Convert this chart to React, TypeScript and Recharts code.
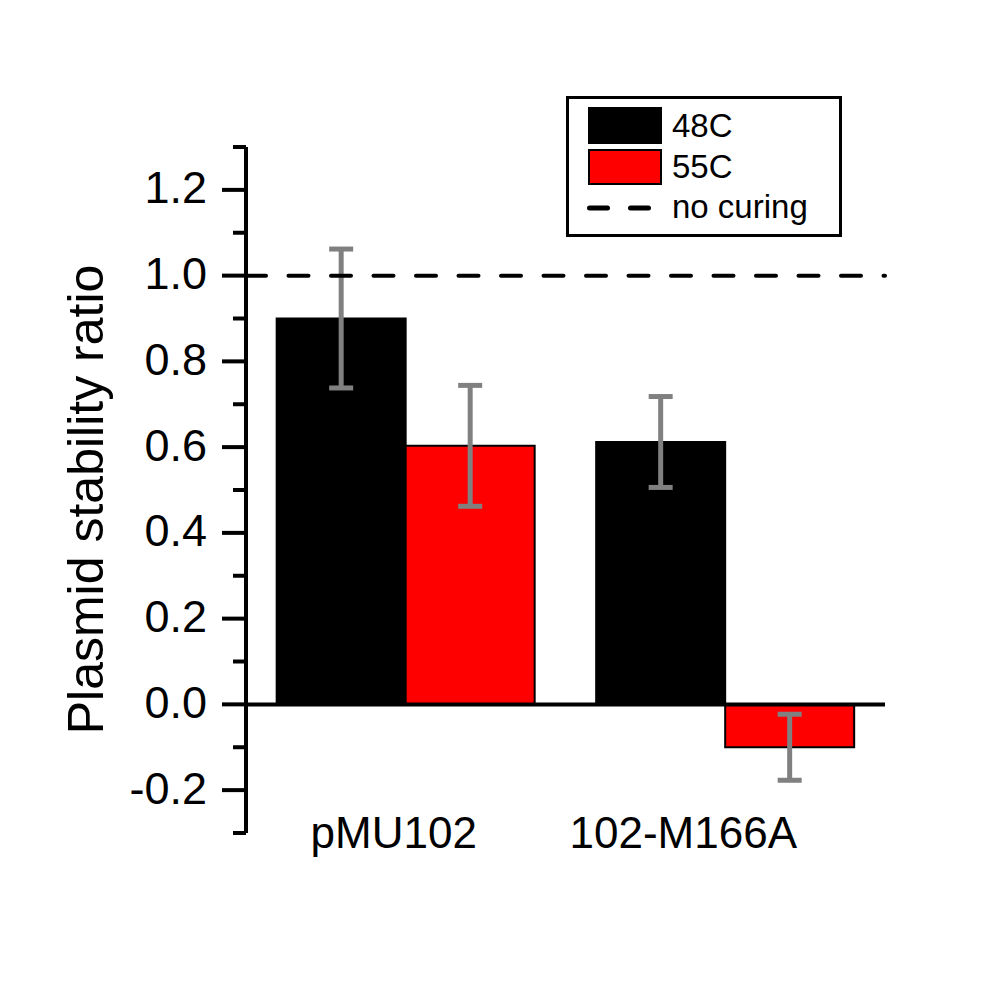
import {
  Bar,
  BarChart,
  ErrorBar,
  Label,
  Legend,
  ReferenceLine,
  XAxis,
  YAxis,
} from "recharts";

const categories = ["pMU102", "102-M166A"];
const seriesNames = ["48C", "55C"];
const values48 = [0.9, 0.612];
const errors48 = [0.162, 0.106];
const values55 = [0.603, -0.1];
const errors55 = [0.141, 0.077];
const yTicks = [
  -0.3, -0.2, -0.1, 0, 0.1, 0.2, 0.3, 0.4, 0.5, 0.6, 0.7, 0.8, 0.9, 1.0, 1.1,
  1.2, 1.3,
];
const noCuringLevel = 1.0;
const noCuringLabel = "no curing";
const yLabel = "Plasmid stability ratio";

const data = categories.map((name, i) => ({
  name,
  c48: values48[i],
  e48: errors48[i],
  c55: values55[i],
  e55: errors55[i],
}));

const FONT = '"Liberation Sans", Arial, sans-serif';
// category labels sit a bit left of the bar groups in the original
const xLabelShift = [-12, -42];

const YTick = (props: any) => {
  const { x, y, payload } = props;
  const v = payload.value as number;
  const major = Math.round(v * 10) % 2 === 0;
  return (
    <g>
      <line
        x1={x - (major ? 24 : 13)}
        x2={x}
        y1={y}
        y2={y}
        stroke="#000"
        strokeWidth={4}
      />
      {major && (
        <text
          x={x - 39}
          y={y - 2}
          textAnchor="end"
          dominantBaseline="central"
          fontSize={45}
          fontFamily={FONT}
          fill="#000"
        >
          {v.toFixed(1)}
        </text>
      )}
    </g>
  );
};

const XTick = (props: any) => {
  const { x, y, payload, index } = props;
  return (
    <text
      x={x + (xLabelShift[index] ?? 0)}
      y={y + 15}
      textAnchor="middle"
      fontSize={44}
      fontFamily={FONT}
      fill="#000"
    >
      {payload.value}
    </text>
  );
};

const renderYLabel = (props: any) => {
  const vb = props.viewBox || {};
  const cx = vb.x + 57.5;
  const cy = vb.y + vb.height / 2 + 9.5;
  return (
    <text
      x={cx}
      y={cy}
      transform={`rotate(-90, ${cx}, ${cy})`}
      textAnchor="middle"
      dominantBaseline="central"
      fontSize={50}
      fontFamily={FONT}
      fill="#000"
    >
      {yLabel}
    </text>
  );
};

const LegendBox = () => (
  <svg width={276} height={141} style={{ display: "block" }}>
    <rect x={1.5} y={1.5} width={273} height={138} fill="#fff" stroke="#000" strokeWidth={3} />
    <rect x={22} y={11} width={74} height={37} fill="#000" />
    <rect x={23} y={54} width={72} height={34} fill="#ff0000" stroke="#000" strokeWidth={2} />
    <line
      x1={23.5}
      x2={82.5}
      y1={112}
      y2={112}
      stroke="#000"
      strokeWidth={5}
      strokeDasharray="18 23"
      strokeLinecap="round"
    />
    <g fontSize={33} fontFamily={FONT} fill="#000">
      <text x={106} y={41}>{seriesNames[0]}</text>
      <text x={106} y={82}>{seriesNames[1]}</text>
      <text x={106} y={122}>{noCuringLabel}</text>
    </g>
  </svg>
);

export default function App() {
  return (
    <div style={{ width: 965, height: 965, background: "#fff" }}>
      <BarChart
        width={965}
        height={965}
        data={data}
        margin={{ top: 139, right: 88, bottom: 80, left: 20 }}
        barGap={0}
        barCategoryGap="9.6%"
      >
        <XAxis
          dataKey="name"
          axisLine={false}
          tickLine={false}
          tickSize={0}
          tickMargin={0}
          height={60}
          tick={<XTick />}
          interval={0}
        />
        <YAxis
          type="number"
          domain={[-0.3, 1.3]}
          ticks={yTicks}
          interval={0}
          allowDataOverflow
          width={218}
          axisLine={{ stroke: "#000", strokeWidth: 4 }}
          tickLine={false}
          tickSize={0}
          tickMargin={0}
          tick={<YTick />}
        >
          <Label content={renderYLabel} />
        </YAxis>
        <Bar
          dataKey="c48"
          name={seriesNames[0]}
          fill="#000"
          stroke="#000"
          strokeWidth={2}
          isAnimationActive={false}
        >
          <ErrorBar dataKey="e48" width={12} stroke="#808080" strokeWidth={5} />
        </Bar>
        <Bar
          dataKey="c55"
          name={seriesNames[1]}
          fill="#ff0000"
          stroke="#000"
          strokeWidth={2}
          isAnimationActive={false}
        >
          <ErrorBar dataKey="e55" width={12} stroke="#808080" strokeWidth={5} />
        </Bar>
        <ReferenceLine y={0} stroke="#000" strokeWidth={4} />
        <ReferenceLine
          y={noCuringLevel}
          stroke="#000"
          strokeWidth={4}
          strokeDasharray="20 22.5"
          strokeLinecap="round"
        />
        <Legend
          layout="vertical"
          align="center"
          verticalAlign="middle"
          content={() => <LegendBox />}
          wrapperStyle={{ left: 558, top: 88, width: 276, height: 141 }}
        />
      </BarChart>
    </div>
  );
}
